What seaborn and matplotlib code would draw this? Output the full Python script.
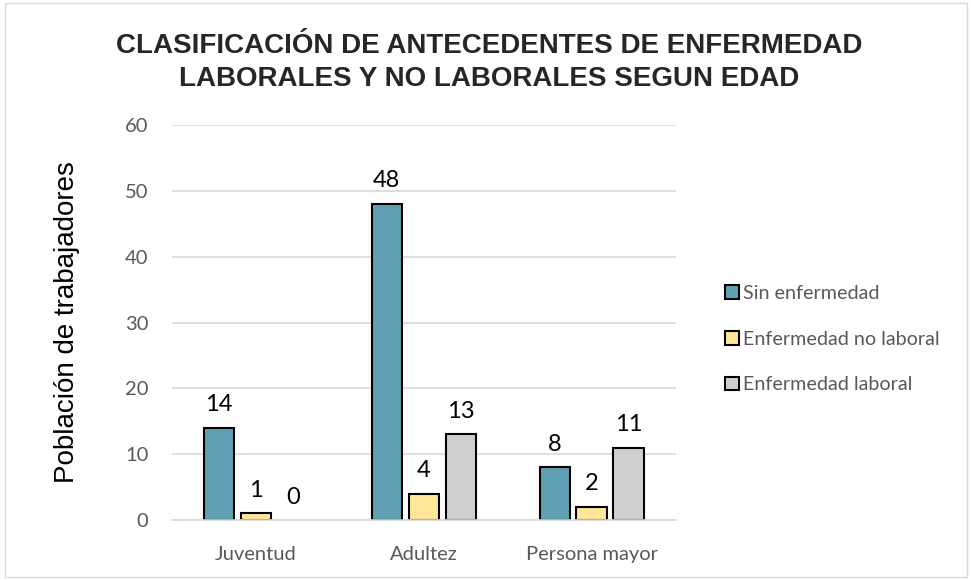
import matplotlib
matplotlib.use("Agg")
import matplotlib.pyplot as plt
import matplotlib.patches as mpatches
import seaborn as sns
import pandas as pd

categories = ["Juventud", "Adultez", "Persona mayor"]
series_names = ["Sin enfermedad", "Enfermedad no laboral", "Enfermedad laboral"]
sin_enfermedad = [14, 48, 8]
enf_no_laboral = [1, 4, 2]
enf_laboral = [0, 13, 11]
colors = ["#5FA1B3", "#FFE699", "#D0CECE"]

rows = []
for name, vals in zip(series_names, [sin_enfermedad, enf_no_laboral, enf_laboral]):
    for c, v in zip(categories, vals):
        rows.append({"Edad": c, "Serie": name, "Valor": v})
df = pd.DataFrame(rows)

sns.set_theme(style="white")
plt.rcParams["font.family"] = ["Liberation Sans", "DejaVu Sans"]

fig = plt.figure(figsize=(9.72, 5.8), dpi=100)
ax = fig.add_axes([0.177, 0.1034, 0.518, 0.6811])

sns.barplot(data=df, x="Edad", y="Valor", hue="Serie", order=categories,
            hue_order=series_names, palette=colors, saturation=1, width=0.66, gap=0.18,
            edgecolor="black", linewidth=1.5, ax=ax, legend=False)

# zero-height bars show no outline
for p in ax.patches:
    if p.get_height() == 0:
        p.set_linewidth(0)

ax.set_xlim(-0.5, 2.5)
ax.set_ylim(0, 60)
ax.set_yticks(range(0, 61, 10))
ax.yaxis.grid(True, color="#D9D9D9", linewidth=1.2)
ax.set_axisbelow(True)
for s in ["top", "right", "left"]:
    ax.spines[s].set_visible(False)
ax.spines["bottom"].set_color("#D9D9D9")
ax.spines["bottom"].set_linewidth(1.2)
ax.tick_params(axis="both", length=0, labelsize=14.5, colors="#595959")
ax.tick_params(axis="x", pad=19)
ax.tick_params(axis="y", pad=17)
for lab in ax.get_xticklabels() + ax.get_yticklabels():
    lab.set_family(["Lato", "DejaVu Sans"])
ax.set_xlabel("")
ax.set_ylabel("Población de trabajadores", fontsize=20, color="black", labelpad=32)

for cont in ax.containers:
    ax.bar_label(cont, labels=[f"{int(v)}" for v in cont.datavalues], padding=9,
                 fontsize=17, family=["Lato", "DejaVu Sans"], color="black")

fig.text(0.503, 0.893, "CLASIFICACIÓN DE ANTECEDENTES DE ENFERMEDAD\nLABORALES Y NO LABORALES SEGUN EDAD",
         ha="center", va="center", fontsize=20, fontweight="bold", linespacing=1.35)

handles = [mpatches.Patch(facecolor=c, edgecolor="black", linewidth=1.5, label=n)
           for c, n in zip(colors, series_names)]
leg = fig.legend(handles=handles, loc="center left", bbox_to_anchor=(0.728, 0.415),
                 frameon=False, handlelength=0.7, handleheight=0.7, handletextpad=0.2,
                 labelspacing=1.45, prop={"family": ["Lato", "DejaVu Sans"], "size": 14.2})
for t in leg.get_texts():
    t.set_color("#595959")

fig.patches.append(mpatches.Rectangle((0.005, 0.005), 0.99, 0.99, transform=fig.transFigure,
                                      fill=False, edgecolor="#D9D9D9", linewidth=1))

fig.savefig("out.png", dpi=100)
